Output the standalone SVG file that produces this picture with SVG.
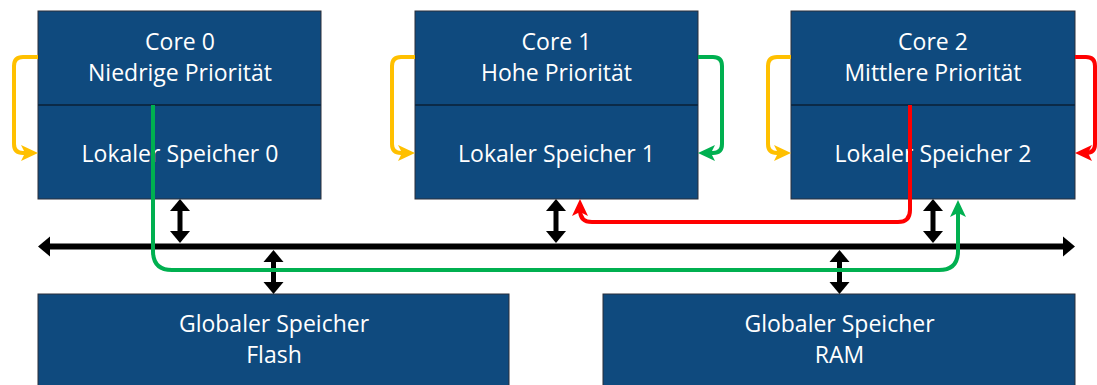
<svg xmlns="http://www.w3.org/2000/svg" width="1097" height="385" viewBox="0 0 1097 385">
  <style>
    .box { fill: #0F4A7E; stroke: #2a2f3a; stroke-width: 1; }
    .div { stroke: #0b2a47; stroke-width: 2; }
    .lbl { font-family: "Open Sans", "Noto Sans", sans-serif; font-size: 23px; fill: #ffffff; text-anchor: middle; }
    .bus { fill: none; stroke: #000000; stroke-width: 6; }
    .link { fill: none; stroke: #000000; stroke-width: 5; }
    .flow { fill: none; stroke-width: 4; stroke-linejoin: round; }
    .yellow { stroke: #FFC000; }
    .green { stroke: #00B050; }
    .red { stroke: #FF0000; }
  </style>
  <defs>
    <!-- plain triangle head for the black bus links -->
    <marker id="tri" markerUnits="userSpaceOnUse" orient="auto-start-reverse" refX="0" refY="0" markerWidth="30" markerHeight="30" overflow="visible">
      <path d="M6,0 L-6,-10 L-6,10 Z" fill="#000000"/>
    </marker>
    <!-- notched heads for the coloured access paths -->
    <marker id="headY" markerUnits="userSpaceOnUse" orient="auto" refX="0" refY="0" markerWidth="30" markerHeight="30" overflow="visible">
      <path d="M8,0 L-9,-8 L-5,0 L-9,8 Z" fill="#FFC000"/>
    </marker>
    <marker id="headG" markerUnits="userSpaceOnUse" orient="auto" refX="0" refY="0" markerWidth="30" markerHeight="30" overflow="visible">
      <path d="M8,0 L-9,-8 L-5,0 L-9,8 Z" fill="#00B050"/>
    </marker>
    <marker id="headR" markerUnits="userSpaceOnUse" orient="auto" refX="0" refY="0" markerWidth="30" markerHeight="30" overflow="visible">
      <path d="M8,0 L-9,-8 L-5,0 L-9,8 Z" fill="#FF0000"/>
    </marker>
  </defs>

  <g id="core0">
    <rect class="box" x="38" y="11" width="283" height="188"/>
    <line class="div" x1="38" y1="105" x2="321" y2="105"/>
    <text class="lbl" x="180" y="50">Core 0</text>
    <text class="lbl" x="180" y="81">Niedrige Priorität</text>
    <text class="lbl" x="180" y="162">Lokaler Speicher 0</text>
  </g>

  <g id="core1">
    <rect class="box" x="415" y="11" width="283" height="188"/>
    <line class="div" x1="415" y1="105" x2="698" y2="105"/>
    <text class="lbl" x="556.5" y="50">Core 1</text>
    <text class="lbl" x="556.5" y="81">Hohe Priorität</text>
    <text class="lbl" x="556.5" y="162">Lokaler Speicher 1</text>
  </g>

  <g id="core2">
    <rect class="box" x="791" y="11" width="284" height="188"/>
    <line class="div" x1="791" y1="105" x2="1075" y2="105"/>
    <text class="lbl" x="933" y="50">Core 2</text>
    <text class="lbl" x="933" y="81">Mittlere Priorität</text>
    <text class="lbl" x="933" y="162">Lokaler Speicher 2</text>
  </g>

  <g id="flash">
    <rect class="box" x="38" y="294" width="471" height="100"/>
    <text class="lbl" x="274" y="332">Globaler Speicher</text>
    <text class="lbl" x="274" y="363">Flash</text>
  </g>

  <g id="ram">
    <rect class="box" x="603" y="294" width="472" height="100"/>
    <text class="lbl" x="839.5" y="332">Globaler Speicher</text>
    <text class="lbl" x="839.5" y="363">RAM</text>
  </g>

  <g id="connectors">
    <!-- shared bus -->
    <path class="bus" d="M44,246.5 H1069" marker-start="url(#tri)" marker-end="url(#tri)"/>
    <!-- bus links -->
    <path class="link" d="M180,205 V237" marker-start="url(#tri)" marker-end="url(#tri)"/>
    <path class="link" d="M556,205 V237" marker-start="url(#tri)" marker-end="url(#tri)"/>
    <path class="link" d="M933,205 V237" marker-start="url(#tri)" marker-end="url(#tri)"/>
    <path class="link" d="M273.5,256 V288" marker-start="url(#tri)" marker-end="url(#tri)"/>
    <path class="link" d="M839.5,256 V288" marker-start="url(#tri)" marker-end="url(#tri)"/>

    <!-- local loops: core to own local memory -->
    <path class="flow yellow" d="M38,57 H23 Q14,57 14,66 V144 Q14,153 23,153 H30" marker-end="url(#headY)"/>
    <path class="flow yellow" d="M415,57 H401 Q392,57 392,66 V144 Q392,153 401,153 H407" marker-end="url(#headY)"/>
    <path class="flow green" d="M698,57 H713 Q722,57 722,66 V144 Q722,153 713,153 H706" marker-end="url(#headG)"/>
    <path class="flow yellow" d="M791,57 H777 Q768,57 768,66 V144 Q768,153 777,153 H783" marker-end="url(#headY)"/>
    <path class="flow red" d="M1075,57 H1086 Q1095,57 1095,66 V144 Q1095,153 1086,153 H1083" marker-end="url(#headR)"/>

    <!-- core 2 into local memory 1 -->
    <path class="flow red" d="M910,105 V210 Q910,222 898,222 H592 Q580,222 580,210 V207" marker-end="url(#headR)"/>
    <!-- core 0 into local memory 2 -->
    <path class="flow green" d="M153,105 V251 Q153,270 172,270 H939 Q958,270 958,251 V208" marker-end="url(#headG)"/>
  </g>
</svg>
